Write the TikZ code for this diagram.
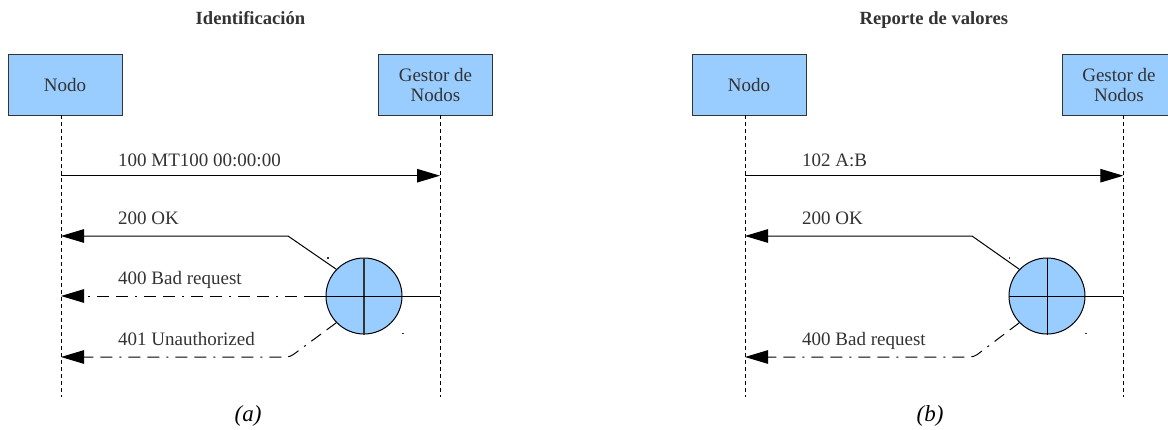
\documentclass[tikz,border=0pt]{standalone}
\usepackage{fontspec}
\setmainfont{Liberation Serif}
\usetikzlibrary{arrows.meta}
\definecolor{boxblue}{HTML}{99CCFF}
\definecolor{ink}{HTML}{333333}
\tikzset{
  actor/.style={draw=ink, fill=boxblue, line width=1pt, minimum width=114pt,
    minimum height=61pt, text=ink, font=\fontsize{19}{20}\selectfont,
    align=center, inner sep=0pt},
  life/.style={dash pattern=on 4pt off 3pt, line width=0.9pt},
  msg/.style={line width=1pt, -{Triangle[length=23pt,width=13.5pt]}},
  msgdd/.style={msg, dash pattern=on 12pt off 7pt on 12pt off 7pt on 2pt off 7pt},
  lbl/.style={anchor=base west, text=ink, font=\fontsize{19}{22}\selectfont, inner sep=0pt},
  ttl/.style={anchor=base, text=ink, font=\bfseries\fontsize{18.6}{20}\selectfont, inner sep=0pt},
  capt/.style={anchor=base, font=\itshape\fontsize{23}{26}\selectfont, inner sep=0pt},
  switch/.style={circle, draw=black, fill=boxblue, line width=1pt, minimum size=76pt, inner sep=0pt},
  speck/.style={fill=ink, draw=none, inner sep=0pt, minimum size=1.3pt}
}
\begin{document}
\begin{tikzpicture}[x=1pt, y=-1pt]
\clip (0,0) rectangle (1168,429);

% ---------- (a) Identificacion ----------
\node[ttl] (tA) at (250.5,24) {Identificación};
\node[actor] (nodoA) at (65,84.5) {Nodo};
\node[actor] (gestA) at (435.5,84.5) {Gestor de\\Nodos};
\coordinate (nA0) at (61,115);  \coordinate (nA1) at (61,397);
\coordinate (gA0) at (440,115); \coordinate (gA1) at (440,397);
\draw[life] (nA0) -- (nA1);
\draw[life] (gA0) -- (gA1);

\node[switch] (swA) at (364,296) {};
\draw[ink, line width=1.2pt] (swA.north) -- (swA.south);
\node[speck] (sA1) at (328,258) {};
\node[speck] (sA2) at (403,333.5) {};

% request
\coordinate (a1s) at (61,175.7); \coordinate (a1e) at (440,175.7);
\draw[msg] (a1s) -- (a1e);
\node[lbl] (la1) at (118,166) {100 MT100 00:00:00};

% 200 OK
\coordinate (a2k) at (288,236); \coordinate (a2e) at (61,236);
\draw[msg] (swA.136) -- (a2k) -- (a2e);
\node[lbl] (la2) at (118,224) {200 OK};

% 400 Bad request
\coordinate (a3j) at (316,296); \coordinate (a3e) at (61,296);
\coordinate (a3g) at (440,296);
\draw[line width=1pt] (a3g) -- (a3j);
\draw[msgdd] (a3j) -- (a3e);
\node[lbl] (la3) at (118,284) {400 Bad request};

% 401 Unauthorized
\coordinate (a4k) at (290,357); \coordinate (a4e) at (61,357);
\draw[msgdd, rounded corners=4pt] (swA.224) -- (a4k) -- (a4e);
\node[lbl] (la4) at (118,345) {401 Unauthorized};

\node[capt] (cA) at (248,421) {(a)};

% ---------- (b) Reporte de valores ----------
\node[ttl] (tB) at (933.8,24) {Reporte de valores};
\node[actor] (nodoB) at (749,84.5) {Nodo};
\node[actor] (gestB) at (1119,84.5) {Gestor de\\Nodos};
\coordinate (nB0) at (745,115);  \coordinate (nB1) at (745,397);
\coordinate (gB0) at (1123.3,115); \coordinate (gB1) at (1123.3,397);
\draw[life] (nB0) -- (nB1);
\draw[life] (gB0) -- (gB1);

\node[switch] (swB) at (1047,296) {};
\draw[line width=1pt] (swB.north) -- (swB.south);
\draw[line width=1pt] (swB.west) -- (swB.east);
\node[speck] (sB1) at (1009.5,258) {};
\node[speck] (sB2) at (1086,333.5) {};

% request
\coordinate (b1s) at (745,175.7); \coordinate (b1e) at (1123.3,175.7);
\draw[msg] (b1s) -- (b1e);
\node[lbl] (lb1) at (802,166) {102 A:B};

% 200 OK
\coordinate (b2k) at (972,236); \coordinate (b2e) at (745,236);
\draw[msg] (swB.136) -- (b2k) -- (b2e);
\node[lbl] (lb2) at (802,224) {200 OK};

% circle to manager
\coordinate (b3g) at (1123.3,296);
\draw[line width=1pt] (b3g) -- (swB.east);

% 400 Bad request
\coordinate (b4k) at (974,357); \coordinate (b4e) at (745,357);
\draw[msgdd, rounded corners=4pt] (swB.224) -- (b4k) -- (b4e);
\node[lbl] (lb4) at (802,345) {400 Bad request};

\node[capt] (cB) at (930,421) {(b)};
\end{tikzpicture}
\end{document}
